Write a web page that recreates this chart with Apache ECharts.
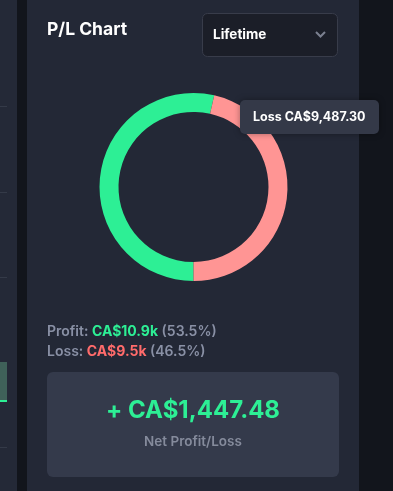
<!DOCTYPE html>
<html><head><meta charset="utf-8">
<script src="https://cdn.jsdelivr.net/npm/echarts@6/dist/echarts.min.js"></script>
<style>html,body{margin:0;padding:0;background:#12151c;}#c{width:393px;height:491px;}</style>
</head><body><div id="c"></div>
<script>
const categories = ['Profit', 'Loss'];
const values = [10934.78, 9487.30];
const netValue = 1447.48;
const periodLabel = 'Lifetime';
const titleText = 'P/L Chart';
const colors = ['#2def95', '#ff9594'];

const total = values[0] + values[1];
const pct = v => (v / total * 100).toFixed(1) + '%';
const k = v => 'CA$' + (v / 1000).toFixed(1) + 'k';
const money = v => 'CA$' + v.toLocaleString('en-US', {minimumFractionDigits: 2, maximumFractionDigits: 2});
const FONT = 'Inter';

const chart = echarts.init(document.getElementById('c'), null, {renderer: 'canvas'});
chart.setOption({
  backgroundColor: '#12151c',
  animation: false,
  graphic: [
    {type: 'rect', z: 0, shape: {x: 0, y: 0, width: 17, height: 491}, style: {fill: '#242937'}},
    {type: 'rect', z: 0, shape: {x: 27, y: 0, width: 332, height: 491}, style: {fill: '#232836'}},
    {type: 'rect', z: 1, shape: {x: 0, y: 106, width: 7, height: 1}, style: {fill: '#343a48'}},
    {type: 'rect', z: 1, shape: {x: 0, y: 192, width: 7, height: 1}, style: {fill: '#343a48'}},
    {type: 'rect', z: 1, shape: {x: 0, y: 277, width: 7, height: 1}, style: {fill: '#343a48'}},
    {type: 'rect', z: 1, shape: {x: 0, y: 447, width: 7, height: 1}, style: {fill: '#343a48'}},
    {type: 'rect', z: 1, shape: {x: 0, y: 362, width: 7, height: 39}, style: {fill: '#3f6159'}},
    {type: 'rect', z: 1, shape: {x: 0, y: 400, width: 7, height: 2}, style: {fill: '#2def95'}},
    {type: 'text', z: 2, x: 47, y: 30, style: {text: titleText, fill: '#ffffff', font: '700 17.5px ' + FONT, textVerticalAlign: 'middle'}},
    {type: 'rect', z: 2, shape: {x: 202.5, y: 13.5, width: 135, height: 43, r: 5}, style: {fill: '#1b1e28', stroke: '#383c4a', lineWidth: 1}},
    {type: 'text', z: 3, x: 213, y: 35, style: {text: periodLabel, fill: '#ffffff', font: '700 13.5px ' + FONT, textVerticalAlign: 'middle'}},
    {type: 'polyline', z: 3, shape: {points: [[316, 32], [320.5, 36.5], [325, 32]]}, style: {stroke: '#7b8090', lineWidth: 2, fill: null}},
    {type: 'text', z: 2, x: 47, y: 332, style: {
      text: '{g|Profit: }{p|' + k(values[0]) + '}{g| (' + pct(values[0]) + ')}',
      textVerticalAlign: 'middle',
      rich: {g: {fill: '#8990a5', font: '600 14px ' + FONT}, p: {fill: colors[0], font: '700 14px ' + FONT}}
    }},
    {type: 'text', z: 2, x: 47, y: 352, style: {
      text: '{g|Loss: }{l|' + k(values[1]) + '}{g| (' + pct(values[1]) + ')}',
      textVerticalAlign: 'middle',
      rich: {g: {fill: '#8990a5', font: '600 14px ' + FONT}, l: {fill: '#ff6b6b', font: '700 14px ' + FONT}}
    }},
    {type: 'rect', z: 2, shape: {x: 47, y: 372, width: 292, height: 105, r: 6}, style: {fill: '#343a4b'}},
    {type: 'text', z: 3, x: 193, y: 411, style: {text: '+ ' + money(netValue), fill: colors[0], font: '700 24px ' + FONT, textAlign: 'center', textVerticalAlign: 'middle'}},
    {type: 'text', z: 3, x: 193, y: 442, style: {text: 'Net Profit/Loss', fill: '#858b9c', font: '600 13.5px ' + FONT, textAlign: 'center', textVerticalAlign: 'middle'}},
    {type: 'rect', z: 10, shape: {x: 240, y: 100, width: 139, height: 34, r: 5}, style: {fill: '#343948', shadowBlur: 6, shadowColor: 'rgba(0,0,0,0.35)'}},
    {type: 'text', z: 11, x: 253, y: 117.5, style: {text: categories[1] + ' ' + money(values[1]), fill: '#ffffff', font: '700 12.5px ' + FONT, textVerticalAlign: 'middle'}}
  ],
  series: [{
    type: 'pie',
    center: [193.5, 187],
    radius: [75, 94],
    startAngle: 270,
    clockwise: true,
    silent: true,
    label: {show: false},
    labelLine: {show: false},
    itemStyle: {borderWidth: 0},
    data: categories.map((c, i) => ({name: c, value: values[i], itemStyle: {color: colors[i]}}))
  }]
});
</script></body></html>
